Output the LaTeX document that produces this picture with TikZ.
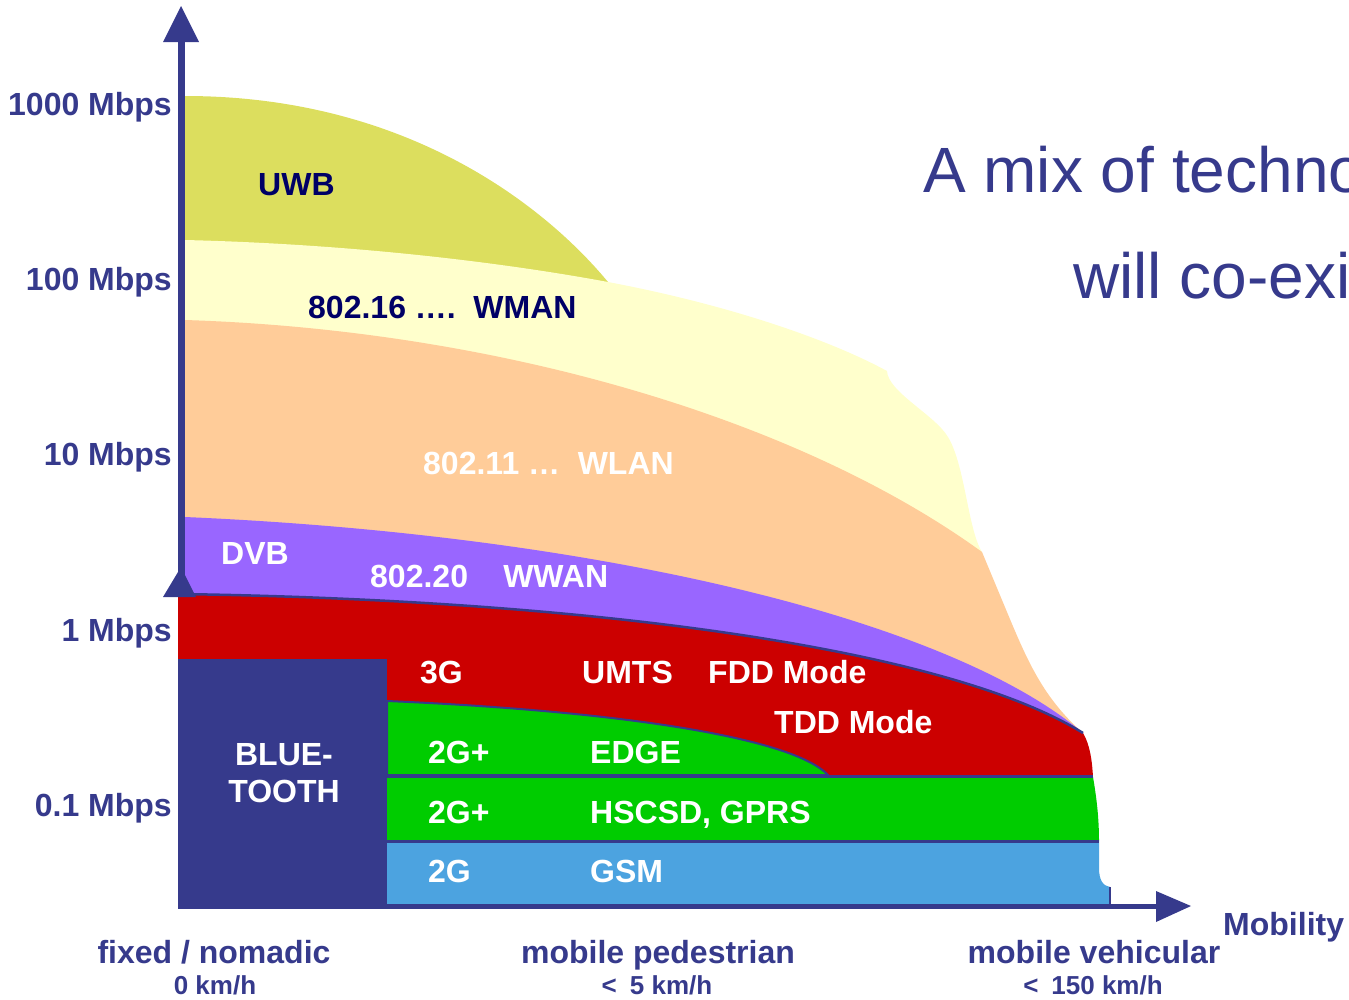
\documentclass[tikz,border=0pt]{standalone}
\usepackage{fontspec}
\setmainfont{Liberation Sans}
\definecolor{axisblue}{HTML}{363A8C}
\definecolor{navytext}{HTML}{000066}
\definecolor{uwbcol}{HTML}{DCDE5E}
\definecolor{wmancol}{HTML}{FFFFCC}
\definecolor{wlancol}{HTML}{FFCC99}
\definecolor{dvbcol}{HTML}{9966FF}
\definecolor{umtscol}{HTML}{CC0000}
\definecolor{gprscol}{HTML}{00CC00}
\definecolor{gsmcol}{HTML}{4CA3E0}
\begin{document}
\begin{tikzpicture}[x=1pt,y=-1pt,
  bigfont/.style={font=\bfseries\fontsize{32}{37}\selectfont},
  ylab/.style={bigfont, text=axisblue, inner sep=0pt, anchor=base east},
  xlab/.style={bigfont, text=axisblue, inner sep=0pt, anchor=base},
  xsub/.style={font=\bfseries\fontsize{26}{30}\selectfont, text=axisblue, inner sep=0pt, anchor=base},
  wlbl/.style={bigfont, text=white, inner sep=0pt, anchor=base west},
  dlbl/.style={bigfont, text=navytext, inner sep=0pt, anchor=base west},
  titlefont/.style={font=\fontsize{64}{70}\selectfont, text=axisblue, inner sep=0pt, anchor=base west}]
\useasboundingbox (0,0) rectangle (1349,999);
\clip (0,0) rectangle (1349,999);

% ---- regions, back to front ----
\fill[uwbcol] (185,96) .. controls (400,96) and (540,200) .. (608,282) -- (608,320) -- (185,320) -- cycle;
\fill[wmancol] (185,240) .. controls (350,244) and (500,262) .. (608,282)
  .. controls (730,305) and (830,340) .. (887,371)
  .. controls (888,392) and (935,415) .. (948,437)
  .. controls (965,465) and (968,530) .. (982,552) -- (982,620) -- (185,620) -- cycle;
\fill[wlancol] (185,320) .. controls (500,330) and (800,420) .. (982,552)
  -- (1002,600) .. controls (1025,655) and (1040,695) .. (1083,733) -- (185,733) -- cycle;
\fill[dvbcol] (185,517) .. controls (600,535) and (950,620) .. (1083,733) -- (185,733) -- cycle;
\fill[umtscol] (178,594) .. controls (600,600) and (950,650) .. (1083,733)
  .. controls (1090,745) and (1092,760) .. (1093,777) -- (178,777) -- cycle;
\draw[axisblue, line width=2.5] (178,594) .. controls (600,600) and (950,650) .. (1083,733);
\filldraw[fill=gprscol, draw=axisblue, line width=2] (387,701) .. controls (600,710) and (790,735) .. (828,775) -- (387,775) -- cycle;
\fill[gprscol] (387,777) -- (1093,777) .. controls (1097,800) and (1099,820) .. (1099,841) -- (387,841) -- cycle;
\fill[gsmcol] (387,841) -- (1099,841) -- (1099,868) .. controls (1099,880) and (1103,886) .. (1110,887) -- (1110,906) -- (387,906) -- cycle;
\draw[axisblue, line width=1.2] (1110,887) -- (1110,906);
\draw[axisblue, line width=3] (387,776) -- (1093,776);
\draw[axisblue, line width=3] (387,841) -- (1099,841);
\fill[axisblue] (178,659) rectangle (387,906);

% ---- axes ----
\coordinate (yfoot) at (181.5,597);
\coordinate (ybase) at (181.5,40);
\coordinate (xfoot) at (178,906);
\coordinate (xbase) at (1158,906);
\draw[axisblue, line width=7] (yfoot) -- (ybase);
\fill[axisblue] (163,42) -- (199,42) -- (181,6) -- cycle;
\fill[axisblue] (163,597) -- (196,597) -- (181,567) -- cycle;
\draw[axisblue, line width=5] (xfoot) -- (xbase);
\fill[axisblue] (1156,891) -- (1156,922) -- (1191,906) -- cycle;

% ---- axis labels ----
\node[ylab] (y1000) at (172,115) {1000 Mbps};
\node[ylab] (y100) at (172,290) {100 Mbps};
\node[ylab] (y10) at (172,465) {10 Mbps};
\node[ylab] (y1) at (172,641) {1 Mbps};
\node[ylab] (y01) at (172,816) {0.1 Mbps};

\node[xlab] (fixed) at (214,963) {fixed / nomadic};
\node[xsub] (fixedv) at (215,994) {0 km/h};
\node[xlab] (ped) at (658,963) {mobile pedestrian};
\node[xsub] (pedv) at (657,994) {<\hspace{0.5em}5 km/h};
\node[xlab] (veh) at (1094,963) {mobile vehicular};
\node[xsub] (vehv) at (1093,994) {<\hspace{0.5em}150 km/h};
\node[bigfont, text=axisblue, inner sep=0pt, anchor=base west] (mob) at (1223,935) {Mobility};

% ---- region labels ----
\node[dlbl] (uwb) at (258,195) {UWB};
\node[dlbl] (wman) at (308,318) {802.16 ….\hspace{0.55em}WMAN};
\node[wlbl] (wlan) at (423,474) {802.11 …\hspace{0.55em}WLAN};
\node[wlbl] (dvb) at (221,564) {DVB};
\node[wlbl] (wwan) at (370,587) {802.20\hspace{1.1em}WWAN};
\node[wlbl] (g3) at (420,683) {3G};
\node[wlbl] (umts) at (582,683) {UMTS};
\node[wlbl] (fdd) at (708,683) {FDD Mode};
\node[wlbl] (tdd) at (774,733) {TDD Mode};
\node[wlbl] (g2p1) at (428,763) {2G+};
\node[wlbl] (edge) at (590,763) {EDGE};
\node[wlbl] (g2p2) at (428,823) {2G+};
\node[wlbl] (hscsd) at (590,823) {HSCSD, GPRS};
\node[wlbl] (g2) at (428,882) {2G};
\node[wlbl] (gsm) at (590,882) {GSM};
\node[bigfont, text=white, inner sep=0pt, anchor=base] (blue) at (284,765) {BLUE-};
\node[bigfont, text=white, inner sep=0pt, anchor=base] (tooth) at (284,802) {TOOTH};

% ---- title ----
\node[titlefont] (title1) at (923,192) {A mix of technologies};
\node[titlefont] (title2) at (1073,298) {will co-exist};
\end{tikzpicture}
\end{document}
